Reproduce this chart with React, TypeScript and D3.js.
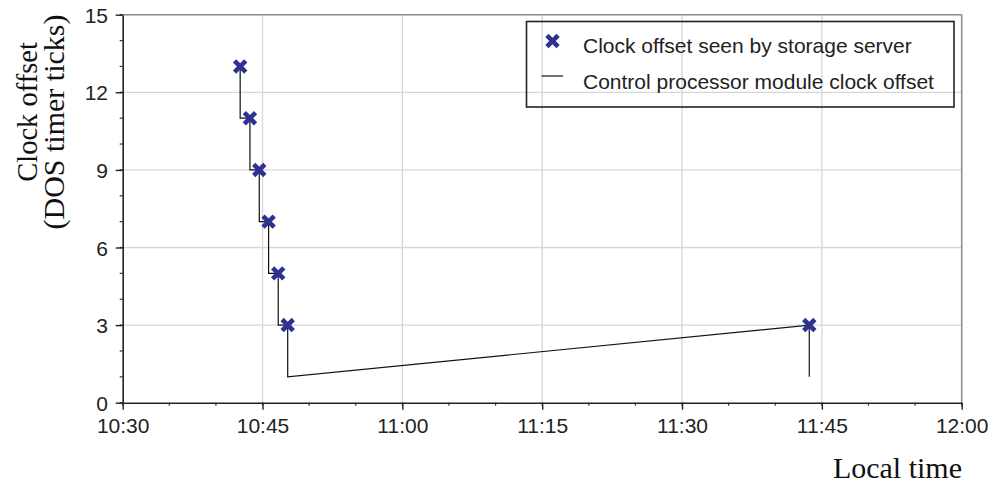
import React, { useEffect, useRef } from "react";
import * as d3 from "d3";

// ---- data ----
const markerTimes = ["10:42:36", "10:43:39", "10:44:39", "10:45:39", "10:46:41", "10:47:42", "11:43:39"];
const markerOffsets = [13, 11, 9, 7, 5, 3, 3];
const lineTimes = [
  "10:42:36", "10:42:36", "10:43:39", "10:43:39", "10:44:39", "10:44:39", "10:45:39",
  "10:45:39", "10:46:41", "10:46:41", "10:47:42", "10:47:42", "11:43:39", "11:43:39",
];
const lineOffsets = [13, 11, 11, 9, 9, 7, 7, 5, 5, 3, 3, 1, 3, 1];
const xTickLabels = ["10:30", "10:45", "11:00", "11:15", "11:30", "11:45", "12:00"];
const yTickValues = [0, 3, 6, 9, 12, 15];
const legendLabels = ["Clock offset seen by storage server", "Control processor module clock offset"];
const yTitle = ["Clock offset", "(DOS timer ticks)"];
const xTitle = "Local time";

const W = 996;
const H = 483;
const SANS = "'Liberation Sans', Arial, Helvetica, sans-serif";
const SERIF = "'Liberation Serif', 'Times New Roman', serif";
const BLUE = "#2e3192";

export default function App() {
  const ref = useRef<SVGSVGElement | null>(null);

  useEffect(() => {
    const svg = d3.select(ref.current);
    svg.selectAll("*").remove();
    const parse = d3.timeParse("%H:%M:%S");
    const parseHM = d3.timeParse("%H:%M");
    const xMajor = xTickLabels.map((s) => parseHM(s) as Date);
    const x = d3.scaleTime().domain([xMajor[0], xMajor[xMajor.length - 1]]).range([122.7, 961.7]);
    const y = d3.scaleLinear().domain([0, 15]).range([402.7, 14.7]);
    const [x0, x1] = x.range();
    const [y0, y1] = y.range();

    const xMinor = d3.timeMinute.every(5)!.range(xMajor[0], d3.timeMinute.offset(xMajor[xMajor.length - 1], 1));
    const yMinor = d3.range(0, 16, 1);

    // gridlines
    const grid = svg.append("g");
    grid.selectAll("line.gx").data(xMajor.slice(1, -1)).join("line")
      .attr("x1", (d) => x(d)).attr("x2", (d) => x(d)).attr("y1", y0).attr("y2", y1)
      .attr("stroke", "#d6d6d6").attr("stroke-width", 1.3);
    grid.selectAll("line.gy").data(yTickValues.slice(1, -1)).join("line")
      .attr("x1", x0).attr("x2", x1).attr("y1", (d) => y(d)).attr("y2", (d) => y(d))
      .attr("stroke", "#d6d6d6").attr("stroke-width", 1.3);

    // frame top/right
    svg.append("line").attr("x1", x0).attr("x2", x1).attr("y1", y1).attr("y2", y1)
      .attr("stroke", "#8a8a8a").attr("stroke-width", 1.5);
    svg.append("line").attr("x1", x1).attr("x2", x1).attr("y1", y1).attr("y2", y0)
      .attr("stroke", "#8a8a8a").attr("stroke-width", 1.5);

    // minor ticks
    svg.append("g").selectAll("line").data(xMinor).join("line")
      .attr("x1", (d) => x(d)).attr("x2", (d) => x(d)).attr("y1", y0).attr("y2", y0 + 3)
      .attr("stroke", "#333").attr("stroke-width", 1.2);
    svg.append("g").selectAll("line").data(yMinor).join("line")
      .attr("x1", x0 - 3).attr("x2", x0).attr("y1", (d) => y(d)).attr("y2", (d) => y(d))
      .attr("stroke", "#333").attr("stroke-width", 1.2);

    // x axis
    const gx = svg.append("g").attr("transform", `translate(0,${y0})`)
      .call(d3.axisBottom(x).tickValues(xMajor).tickFormat(d3.timeFormat("%H:%M") as any).tickSizeInner(7).tickSizeOuter(0));
    gx.select(".domain").attr("stroke", "#222").attr("stroke-width", 1.6);
    gx.selectAll(".tick line").attr("stroke", "#222").attr("stroke-width", 1.4);
    gx.selectAll(".tick text").attr("y", 30.5).attr("dy", null)
      .attr("font-family", SANS).attr("font-size", 21).attr("fill", "#222");

    // y axis
    const gy = svg.append("g").attr("transform", `translate(${x0},0)`)
      .call(d3.axisLeft(y).tickValues(yTickValues).tickSizeInner(7).tickSizeOuter(0));
    gy.select(".domain").attr("stroke", "#222").attr("stroke-width", 1.6);
    gy.selectAll(".tick line").attr("stroke", "#222").attr("stroke-width", 1.4);
    gy.selectAll(".tick text").attr("x", -14.7).attr("dy", "0.36em")
      .attr("font-family", SANS).attr("font-size", 21).attr("fill", "#222");
    svg.selectAll(".domain").attr("fill", "none");

    // control processor line
    const pts = lineTimes.map((t, i) => [x(parse(t) as Date), y(lineOffsets[i])] as [number, number]);
    svg.append("path").attr("d", d3.line()(pts)).attr("fill", "none")
      .attr("stroke", "#111").attr("stroke-width", 1.2);

    // markers
    const cross = "M-5.6,-5.6L5.6,5.6M-5.6,5.6L5.6,-5.6";
    svg.append("g").selectAll("path").data(markerTimes).join("path")
      .attr("transform", (t, i) => `translate(${x(parse(t) as Date)},${y(markerOffsets[i])})`)
      .attr("d", cross).attr("stroke", BLUE).attr("stroke-width", 4.6).attr("fill", "none");

    // legend
    const lg = svg.append("g");
    lg.append("rect").attr("x", 526.5).attr("y", 21.5).attr("width", 427.5).attr("height", 85.5)
      .attr("fill", "none").attr("stroke", "#222").attr("stroke-width", 1.6);
    lg.append("path").attr("transform", "translate(552.5,41)").attr("d", cross)
      .attr("stroke", BLUE).attr("stroke-width", 4.6).attr("fill", "none");
    lg.append("line").attr("x1", 541.5).attr("x2", 563).attr("y1", 76).attr("y2", 76)
      .attr("stroke", "#111").attr("stroke-width", 1.2);
    lg.selectAll("text").data(legendLabels).join("text")
      .attr("x", 583).attr("y", (d, i) => [53, 88.5][i])
      .attr("font-family", SANS).attr("font-size", 21).attr("fill", "#222").text((d) => d);

    // titles
    svg.append("text").attr("transform", "translate(37,112) rotate(-90)").attr("text-anchor", "middle")
      .attr("font-family", SERIF).attr("font-size", 28.5).attr("fill", "#111").text(yTitle[0]);
    svg.append("text").attr("transform", "translate(64,122) rotate(-90)").attr("text-anchor", "middle")
      .attr("font-family", SERIF).attr("font-size", 30).attr("fill", "#111").text(yTitle[1]);
    svg.append("text").attr("x", 962).attr("y", 478).attr("text-anchor", "end")
      .attr("font-family", SERIF).attr("font-size", 30).attr("fill", "#111").text(xTitle);
  }, []);

  return (
    <svg
      ref={ref}
      width={W}
      height={H}
      style={{ position: "absolute", left: 0, top: 0, background: "#fff" }}
    />
  );
}
